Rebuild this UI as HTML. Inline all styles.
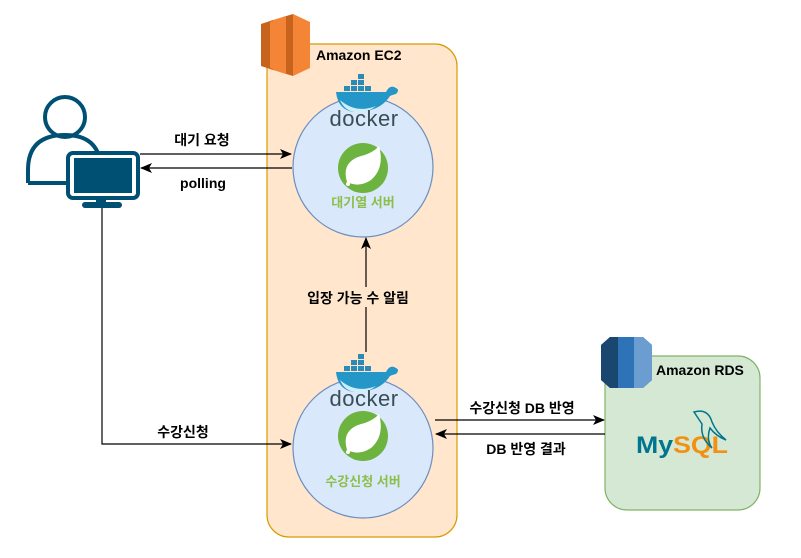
<!DOCTYPE html>
<html><head><meta charset="utf-8"><style>body{margin:0;background:#fff}svg{display:block}text{font-family:"Liberation Sans","Noto Sans CJK KR",sans-serif;font-weight:bold}</style></head>
<body>
<svg width="801" height="558" viewBox="0 0 801 558" xmlns="http://www.w3.org/2000/svg">
<defs>
<marker id="ah" markerWidth="12" markerHeight="10" refX="11" refY="5" orient="auto" markerUnits="userSpaceOnUse"><path d="M0,0 L12,5 L0,10 L3,5 Z" fill="#000"/></marker>
<g id="dock">
 <rect x="-15" y="-24" width="6" height="5" fill="#2a8ab8"/><rect x="-8" y="-24" width="6" height="5" fill="#2a8ab8"/>
 <rect x="-22" y="-18" width="6" height="5" fill="#2a8ab8"/><rect x="-15" y="-18" width="6" height="5" fill="#2a8ab8"/><rect x="-8" y="-18" width="6" height="5" fill="#2a8ab8"/><rect x="-1" y="-18" width="6" height="5" fill="#2a8ab8"/>
 <rect x="-8" y="-30" width="6" height="5" fill="#2a8ab8"/>
 <path d="M-30,-12 L20,-12 Q24,-20 30,-16 Q34,-14 30,-10 Q26,-9 24,-8 Q14,8 -12,8 Q-28,6 -30,-12 Z" fill="#2496c8"/>
 <path d="M-26,-4 Q-10,10 10,2 Q0,10 -12,8 Q-22,6 -26,-4Z" fill="#d0eef8"/>
 <text x="-2" y="22" text-anchor="middle" font-size="22" fill="#394d54" style="font-weight:normal;letter-spacing:0.5px">docker</text>
</g>
<g id="spring">
 <circle cx="0" cy="0" r="25" fill="#6db33f"/>
 <path d="M-16,14 Q-22,-6 -2,-12 Q10,-15 16,-22 Q22,0 8,12 Q-4,20 -16,14Z" fill="#fff"/>
 <circle cx="-15" cy="16" r="2" fill="#fff"/>
</g>
</defs>
<!-- EC2 -->
<rect x="267" y="44" width="190" height="493" rx="22" fill="#ffe6cc" stroke="#d79b00" stroke-width="1.2"/>
<g>
 <polygon points="261,24 273,20 273,70 261,66" fill="#c8631d"/>
 <polygon points="273,20 283,17 283,73 273,70" fill="#f58536"/>
 <polygon points="283,17 293,14 293,76 283,73" fill="#c8631d"/>
 <polygon points="293,14 310,22 310,68 293,76" fill="#f58536"/>
 <polygon points="270,22 276,20 276,70 270,68" fill="#f58536"/>
 <polygon points="280,18 286,16 286,74 280,72" fill="#f58536"/>
</g>
<text x="316" y="60" font-size="14">Amazon EC2</text>
<!-- RDS -->
<rect x="605" y="356" width="155" height="154" rx="22" fill="#d5e8d4" stroke="#82b366" stroke-width="1.2"/>
<path d="M601,345 L610,337 L643,337 L652,345 L652,380 L643,388 L610,388 L601,380Z" fill="#2e73b8"/>
<path d="M601,345 L610,337 L618,337 L618,388 L610,388 L601,380Z" fill="#1a476f"/>
<path d="M634,337 L643,337 L652,345 L652,380 L643,388 L634,388Z" fill="#6b9dd0"/>
<text x="656" y="375" font-size="14">Amazon RDS</text>
<text x="636" y="453" font-size="24" fill="#00758f" textLength="92" lengthAdjust="spacingAndGlyphs">My<tspan fill="#f29111">SQL</tspan></text>
<path d="M694,412 Q708,408 712,422 Q716,432 726,440 Q716,436 710,428 Q706,440 712,448 Q700,438 702,424 Q698,418 694,412Z" fill="none" stroke="#00758f" stroke-width="1.5"/>
<!-- circles -->
<circle cx="363" cy="167" r="70" fill="#dae8fc" stroke="#6c8ebf" stroke-width="1.2"/>
<circle cx="363" cy="448" r="70" fill="#dae8fc" stroke="#6c8ebf" stroke-width="1.2"/>
<use href="#dock" x="366" y="104"/>
<use href="#dock" x="366" y="384"/>
<use href="#spring" x="363" y="168"/>
<use href="#spring" x="363" y="436"/>
<text x="363" y="207" text-anchor="middle" font-size="13" fill="#8cbf4a">대기열 서버</text>
<text x="363" y="486" text-anchor="middle" font-size="13" fill="#8cbf4a">수강신청 서버</text>
<!-- user -->
<circle cx="65" cy="117" r="20" fill="none" stroke="#005073" stroke-width="4"/>
<path d="M28,183 L28,170 Q28,135 65,135 Q95,135 100,160" fill="none" stroke="#005073" stroke-width="4"/>
<path d="M28,183 L66,183" stroke="#005073" stroke-width="4"/>
<rect x="68" y="153" width="70" height="45" rx="5" fill="#fff" stroke="#005073" stroke-width="4"/>
<rect x="74" y="158" width="58" height="35" fill="#005073"/>
<rect x="96" y="198" width="10" height="5" fill="#005073"/>
<rect x="82" y="202" width="40" height="6" rx="3" fill="#005073"/>
<!-- arrows -->
<line x1="140" y1="154" x2="291" y2="154" stroke="#000" stroke-width="1.2" marker-end="url(#ah)"/>
<line x1="292" y1="168" x2="141" y2="168" stroke="#000" stroke-width="1.2" marker-end="url(#ah)"/>
<text x="202" y="145" text-anchor="middle" font-size="14">대기 요청</text>
<text x="203" y="188" text-anchor="middle" font-size="14">polling</text>
<polyline points="102,208 102,444 291,444" fill="none" stroke="#000" stroke-width="1.2" marker-end="url(#ah)"/>
<text x="183" y="437" text-anchor="middle" font-size="14">수강신청</text>
<line x1="366" y1="352" x2="366" y2="238" stroke="#000" stroke-width="1.2" marker-end="url(#ah)"/>
<rect x="298" y="287" width="122" height="20" fill="#ffe6cc"/>
<text x="358" y="303" text-anchor="middle" font-size="14">입장 가능 수 알림</text>
<line x1="435" y1="420" x2="604" y2="420" stroke="#000" stroke-width="1.2" marker-end="url(#ah)"/>
<line x1="605" y1="434" x2="436" y2="434" stroke="#000" stroke-width="1.2" marker-end="url(#ah)"/>
<text x="522" y="413" text-anchor="middle" font-size="14">수강신청 DB 반영</text>
<text x="526" y="454" text-anchor="middle" font-size="14">DB 반영 결과</text>
</svg>
</body></html>
